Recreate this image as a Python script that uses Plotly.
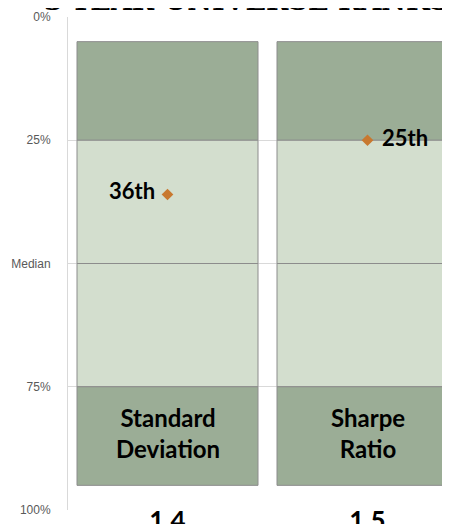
import plotly.graph_objects as go

# ---- data ----
categories = ["1.4", "1.5"]
metrics = ["Standard<br>Deviation", "Sharpe<br>Ratio"]
ranks = [36, 25]
rank_labels = ["36th", "25th"]
band_bounds = [5, 25, 50, 75, 95]          # percentile band edges
band_colors = ["#9BAD96", "#D3DECE", "#D3DECE", "#9BAD96"]
y_tickvals = [0, 25, 50, 75, 100]
y_ticktext = ["0%", "25%", "Median", "75%", "100%"]
title_text = "3-YEAR UNIVERSE RANKS"

xpos = list(range(len(categories)))

fig = go.Figure()

for k in range(len(band_bounds) - 1):
    lo, hi = band_bounds[k], band_bounds[k + 1]
    fig.add_trace(go.Bar(
        x=xpos,
        y=[hi - lo] * len(xpos),
        base=[lo] * len(xpos),
        width=0.905,
        marker=dict(color=band_colors[k], line=dict(color="#8C8C8C", width=1)),
        hoverinfo="skip",
        showlegend=False,
    ))

fig.add_trace(go.Scatter(
    x=xpos, y=ranks, mode="markers",
    marker=dict(symbol="diamond", size=9, color="#C8782F"),
    showlegend=False, hoverinfo="skip",
))

# rank labels
fig.add_annotation(x=xpos[0], y=ranks[0], text=rank_labels[0], showarrow=False,
                   xanchor="right", xshift=-11, yshift=4,
                   font=dict(family="Lato", size=22, color="#000000", weight="bold"))
fig.add_annotation(x=xpos[1], y=ranks[1], text=rank_labels[1], showarrow=False,
                   xanchor="left", xshift=12, yshift=3,
                   font=dict(family="Lato", size=22, color="#000000", weight="bold"))

# metric names in bottom band
for i, m in enumerate(metrics):
    fig.add_annotation(x=xpos[i], y=(band_bounds[3] + band_bounds[4]) / 2, text=m,
                       showarrow=False, align="center", yshift=3,
                       font=dict(family="Lato", size=24, color="#000000", weight="bold"))

# title (cropped at top in reference)
fig.add_annotation(xref="paper", yref="paper", x=0.466, y=1, yanchor="bottom",
                   yshift=-1, text=title_text, showarrow=False,
                   font=dict(family="DejaVu Serif", size=27, color="#000000", weight="bold"))

fig.update_layout(
    width=442, height=516,
    margin=dict(l=60, r=0, t=9, b=14),
    paper_bgcolor="white", plot_bgcolor="white",
    barmode="overlay",
    xaxis=dict(
        range=[-0.4975, 1.4125],
        tickvals=xpos, ticktext=categories,
        showgrid=False, zeroline=False, showline=False,
        tickfont=dict(family="Lato", size=26, color="#000000", weight="bold"),
        ticklabelstandoff=-7,
        automargin=False,
    ),
    yaxis=dict(
        range=[100, 0],
        tickvals=y_tickvals, ticktext=y_ticktext,
        showgrid=True, gridcolor="#D9D9D9", gridwidth=1,
        zeroline=False, showline=True, linecolor="#D9D9D9", linewidth=1,
        tickfont=dict(family="Liberation Sans", size=12, color="#595959"),
        ticklabelstandoff=14,
        automargin=False,
    ),
)

fig.write_html(
    "out.html",
    post_script="document.documentElement.style.overflow='hidden';document.body.style.overflow='hidden';",
)
